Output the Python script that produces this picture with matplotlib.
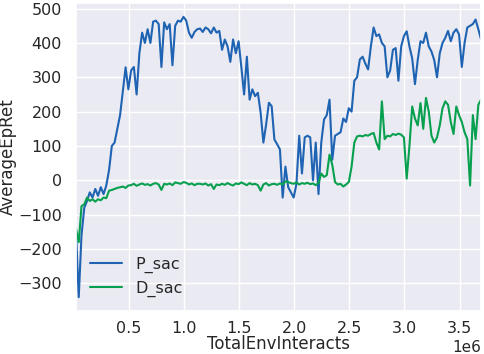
import numpy as np
import matplotlib
matplotlib.use("Agg")
import matplotlib.pyplot as plt
import seaborn as sns

x_start = 0.02e6
x_step = 0.025e6

p_sac = [-150, -340, -160, -80, -60, -35, -50, -25, -45, -20,
         -40, -15, 30, 100, 110, 150, 190, 260, 329, 265,
         320, 330, 250, 370, 430, 400, 440, 400, 462, 465,
         455, 330, 460, 440, 455, 335, 450, 465, 462, 476,
         465, 430, 415, 432, 440, 442, 432, 445, 440, 428,
         445, 430, 435, 380, 410, 390, 345, 410, 370, 405,
         330, 250, 360, 235, 265, 245, 255, 197, 110, 163,
         226, 216, 119, 105, 90, -50, 40, -20, -35, -50,
         -10, 130, 20, 125, 130, 125, 0, 110, -40, 110,
         177, 190, 235, 60, 130, 135, 140, 180, 170, 210,
         200, 290, 300, 352, 360, 340, 323, 390, 445, 420,
         425, 400, 390, 300, 320, 380, 385, 290, 390, 420,
         434, 390, 355, 280, 350, 405, 400, 430, 390, 375,
         350, 300, 370, 400, 415, 435, 405, 430, 440, 425,
         330, 400, 445, 450, 455, 468, 440, 410]

d_sac = [-140, -180, -75, -70, -50, -60, -55, -62, -55, -58,
         -50, -52, -30, -28, -25, -22, -20, -18, -22, -15,
         -14, -10, -16, -12, -9, -13, -11, -15, -10, -8,
         -12, -28, -10, -12, -9, -14, -6, -8, -10, -5,
         -7, -12, -9, -14, -10, -10, -12, -9, -15, -11,
         -25, -12, -14, -10, -13, -8, -12, -15, -9, -11,
         -6, -10, -14, -8, -12, -10, -14, -30, -12, -8,
         -15, -11, -10, -13, -9, -12, -3, -5, -8, -10,
         -6, -12, -8, -10, -7, -11, -9, -14, -8, 20,
         10, 15, 75, 45, -5, -12, -10, -18, -12, -5,
         40, 110, 128, 130, 128, 132, 130, 135, 138, 110,
         90, 230, 120, 130, 128, 135, 132, 136, 133, 125,
         5, 100, 215, 180, 160, 225, 150, 240, 200, 130,
         110, 125, 160, 210, 230, 220, 170, 135, 215, 190,
         170, 140, 120, -15, 190, 120, 220, 235]

steps = np.arange(len(p_sac))
x_vals = x_start + x_step * steps

sns.set_theme(style="darkgrid")
plt.rcParams['font.family'] = ['DejaVu Sans']

fig = plt.figure(figsize=(4.84, 3.54), dpi=100)
ax = fig.add_axes([0.157, 0.121, 0.837, 0.871])
ax.plot(x_vals, p_sac, color='#1f63b3', lw=1.5, label='P_sac')
ax.plot(x_vals, d_sac, color='#07a04e', lw=1.5, label='D_sac')
ax.set_xlim(x_vals[0], x_vals[-1])
ax.set_xlabel('TotalEnvInteracts', fontsize=12)
ax.xaxis.set_label_coords(0.5, -0.078)
ax.set_ylabel('AverageEpRet', fontsize=12, labelpad=1)
ax.tick_params(axis='both', labelsize=11.5)
ax.tick_params(axis='x', pad=1)
ax.tick_params(axis='y', pad=4)
ax.ticklabel_format(axis='x', style='sci', scilimits=(0, 0))
ax.xaxis.get_offset_text().set_fontsize(11)
ax.legend(loc='lower left', frameon=False, fontsize=11.5)
fig.savefig('out.png', dpi=100)
